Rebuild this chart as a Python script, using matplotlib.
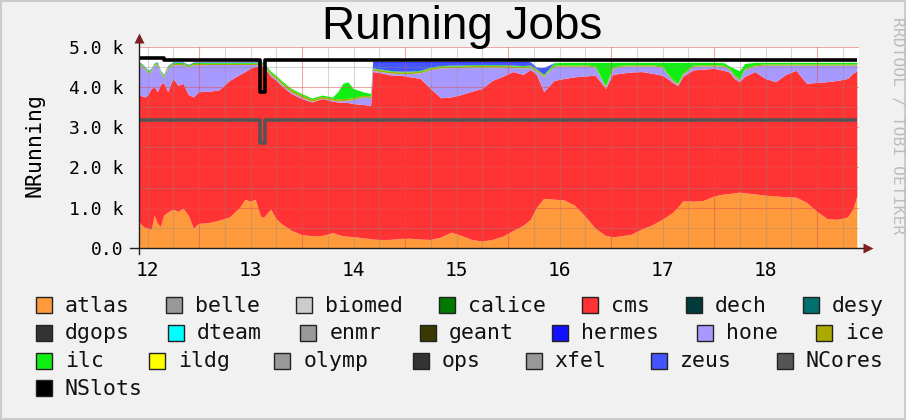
import numpy as np
import matplotlib
matplotlib.use('Agg')
import matplotlib.pyplot as plt
from matplotlib.patches import Rectangle

#-------------------------------------------------------------------------------
#values (x = day of month, y = running jobs)
#-------------------------------------------------------------------------------

t = [11.92, 11.95, 11.98, 12.01, 12.04, 12.07, 12.10, 12.13, 12.16, 12.20,
     12.25, 12.30, 12.35, 12.40, 12.45, 12.50, 12.60, 12.70, 12.80, 12.90,
     12.95, 13.00, 13.05, 13.10, 13.13, 13.20, 13.25, 13.30, 13.40, 13.50,
     13.60, 13.70, 13.80, 13.85, 13.90, 13.95, 14.00, 14.10, 14.17, 14.19,
     14.25, 14.35, 14.45, 14.55, 14.65, 14.75, 14.85, 14.95, 15.05, 15.15,
     15.25, 15.35, 15.45, 15.55, 15.65, 15.72, 15.78, 15.85, 15.95, 16.05,
     16.15, 16.25, 16.35, 16.45, 16.52, 16.60, 16.70, 16.80, 16.90, 17.00,
     17.05, 17.10, 17.15, 17.20, 17.30, 17.40, 17.50, 17.60, 17.65, 17.70,
     17.75, 17.80, 17.90, 18.00, 18.10, 18.20, 18.30, 18.40, 18.50, 18.60,
     18.70, 18.80, 18.85, 18.89]

atlas = [650, 550, 500, 480, 450, 800, 600, 520, 800, 880,
         950, 900, 975, 800, 480, 600, 620, 680, 760, 1000,
         1200, 1150, 1200, 780, 750, 950, 720, 600, 430, 320,
         290, 300, 370, 330, 290, 280, 270, 240, 220, 210,
         200, 200, 225, 230, 210, 200, 260, 380, 300, 200,
         160, 200, 280, 420, 550, 700, 1000, 1220, 1200, 1180,
         1050, 780, 480, 300, 265, 290, 330, 460, 560, 700,
         780, 870, 1000, 1160, 1150, 1170, 1280, 1330, 1340, 1360,
         1375, 1360, 1330, 1300, 1280, 1260, 1250, 1125, 900, 720,
         700, 760, 950, 1280]

#top edge of the red cms band (atlas + cms)
cms_top = [3820, 3760, 3740, 3800, 3950, 3990, 3870, 4050, 4100, 3870,
           4200, 4030, 4075, 3800, 3740, 3870, 3880, 3920, 4150, 4300,
           4370, 4450, 4500, 4530, 4500, 4250, 4160, 4030, 3825, 3700,
           3615, 3700, 3635, 3615, 3610, 3600, 3575, 3550, 3535, 4370,
           4350, 4290, 4280, 4240, 4200, 3950, 3720, 3740, 3800, 3880,
           3950, 4150, 4250, 4370, 4300, 4420, 4300, 3870, 4150, 4200,
           4240, 4260, 4280, 3950, 4300, 4330, 4360, 4370, 4330, 4280,
           4200, 4100, 4020, 4250, 4410, 4430, 4450, 4400, 4360, 4200,
           4120, 4250, 4370, 4200, 4120, 4300, 4400, 4080, 4100, 4120,
           4150, 4200, 4330, 4380]

#top edge of the lavender hone band
hone_top = [4540, 4500, 4420, 4330, 4380, 4520, 4540, 4330, 4230, 4450,
            4540, 4540, 4540, 4480, 4540, 4540, 4545, 4545, 4545, 4545,
            4545, 4545, 4545, 4545, 4530, 4290, 4200, 4070, 3860, 3735,
            3630, 3710, 3660, 3640, 3650, 3660, 3680, 3740, 3720, 4400,
            4380, 4340, 4320, 4320, 4340, 4420, 4460, 4470, 4470, 4480,
            4480, 4480, 4480, 4470, 4460, 4470, 4380, 4250, 4500, 4510,
            4500, 4510, 4480, 3980, 4450, 4500, 4510, 4510, 4510, 4480,
            4300, 4150, 4050, 4300, 4500, 4510, 4510, 4500, 4420, 4260,
            4160, 4420, 4510, 4530, 4530, 4530, 4530, 4530, 4530, 4530,
            4530, 4530, 4530, 4530]

ice = [30] * 25 + [50, 50, 55, 55, 55, 55, 45, 50, 50, 50, 45, 40, 40, 40] \
      + [40] * 18 + [30] + [30] * 36

ilc = [25] * 25 + [40, 30, 35, 35, 35, 30, 30, 30, 175, 375, 410, 230, 85, 65] \
      + [20] * 19 \
      + [60, 60, 70, 60, 90, 590, 120, 70, 60, 60, 60, 90, 270, 420, 520, 270,
         70, 60, 60, 60, 60, 160, 200, 120, 60, 40] + [40] * 10

zeus = [15] * 25 + [0] * 14 \
       + [140, 160, 200, 220, 220, 200, 120, 80, 70, 70, 60, 60, 60, 60, 70,
          80, 60, 30, 150] + [0] * 36

hermes = [0] * 39 + [20] * 17 + [10, 20] + [0] * 36

#the two line series
nslots_t = [11.92, 12.16, 13.09, 13.14, 18.89]
nslots_v = [4720, 4670, 3870, 4660, 4660]
ncores_t = [11.92, 13.09, 13.14, 18.89]
ncores_v = [3180, 2620, 3180, 3180]

legend_names = ['atlas', 'belle', 'biomed', 'calice', 'cms', 'dech', 'desy',
                'dgops', 'dteam', 'enmr', 'geant', 'hermes', 'hone', 'ice',
                'ilc', 'ildg', 'olymp', 'ops', 'xfel', 'zeus', 'NCores',
                'NSlots']
legend_colors = ['#FF9A3C', '#999999', '#CCCCCC', '#007A00', '#FF3333',
                 '#003A3A', '#007070', '#333333', '#00FFFF', '#999999',
                 '#3A3A00', '#1111FF', '#A899FF', '#AAAA00', '#11EE11',
                 '#FFFF00', '#999999', '#333333', '#999999', '#4455FF',
                 '#555555', '#000000']
col = dict(zip(legend_names, legend_colors))

y_ticks = [0, 1000, 2000, 3000, 4000, 5000]
y_labels = ['0.0', '1.0 k', '2.0 k', '3.0 k', '4.0 k', '5.0 k']
x_ticks = [12, 13, 14, 15, 16, 17, 18]

#-------------------------------------------------------------------------------
#build the stacked layers
#-------------------------------------------------------------------------------
atlas = np.array(atlas, float)
cms = np.array(cms_top, float) - atlas
hone = np.array(hone_top, float) - np.array(cms_top, float)

mono = 'DejaVu Sans Mono'
fig = plt.figure(figsize=(9.06, 4.20), dpi=100, facecolor='#F1F1F1')
ax = fig.add_axes([139 / 906, 1 - 248 / 420, 719.5 / 906, 201.3 / 420])
ax.set_facecolor('white')
for s in ax.spines.values():
    s.set_visible(False)

ax.stackplot(t, atlas, cms, hone, ice, ilc, zeus, hermes,
             colors=[col['atlas'], col['cms'], col['hone'], col['ice'],
                     col['ilc'], col['zeus'], col['hermes']],
             linewidth=0, zorder=2)

#grid like rrdtool: grey minor, red major
for v in np.arange(500, 5000, 1000):
    ax.axhline(v, color='#8c8c8c', alpha=0.35, lw=0.8, zorder=3)
for v in np.arange(1000, 5001, 1000):
    ax.axhline(v, color='#de5050', alpha=0.5, lw=0.8, zorder=3)
for v in np.arange(12.0, 18.9, 0.25):
    if abs((v % 1) - 0.5) < 1e-6:
        ax.axvline(v, color='#de5050', alpha=0.5, lw=0.8, zorder=3)
    else:
        ax.axvline(v, color='#8c8c8c', alpha=0.35, lw=0.8, zorder=3)

ax.plot(ncores_t, ncores_v, drawstyle='steps-post', color=col['NCores'],
        lw=2.6, zorder=4, solid_capstyle='butt')
ax.plot(nslots_t, nslots_v, drawstyle='steps-post', color=col['NSlots'],
        lw=2.6, zorder=4, solid_capstyle='butt')

ax.set_xlim(11.917, 18.901)
ax.set_ylim(0, 5000)

#axes with arrows
ax.plot([11.83, 18.99], [0, 0], color='#202020', lw=1, clip_on=False, zorder=6)
ax.plot([11.917, 11.917], [-150, 5220], color='#202020', lw=1, clip_on=False,
        zorder=6)
ax.plot([18.998], [0], marker='>', ms=7, color='#7f1f1f', clip_on=False,
        zorder=7, mec='none')
ax.plot([11.917], [5225], marker='^', ms=7, color='#7f1f1f', clip_on=False,
        zorder=7, mec='none')

ax.set_yticks(y_ticks)
ax.set_yticklabels(y_labels, family=mono, fontsize=13)
ax.set_xticks(x_ticks)
ax.set_xticklabels([str(x) for x in x_ticks], family=mono, fontsize=14)
ax.tick_params(axis='y', length=0, pad=11.5)
ax.tick_params(axis='x', length=0, pad=9.5)

#-------------------------------------------------------------------------------
#overlay in pixel coords: title, labels, legend, frame
#-------------------------------------------------------------------------------
lay = fig.add_axes([0, 0, 1, 1], zorder=10)
lay.set_xlim(0, 906)
lay.set_ylim(420, 0)
lay.axis('off')

lay.text(462, 27, 'Running Jobs', ha='center', va='center', fontsize=33,
         family='Liberation Sans', color='black')
lay.text(34, 145, 'NRunning', rotation=90, ha='center', va='center',
         fontsize=15.5, family=mono)
lay.text(897, 126, 'RRDTOOL / TOBI OETIKER', rotation=-90, ha='center',
         va='center', fontsize=11.8, family=mono, color='#bdbdbd')
lay.add_patch(Rectangle((1, 1), 904, 418, fill=False, edgecolor='#cccccc',
                        lw=1.5))

#justified legend rows, rrdtool style
adv = 13.0
left, width = 36, 848
rows, row = [], []
for name in legend_names:
    trial = row + [name]
    w = sum(29 + adv * len(n) for n in trial) + 26 * (len(trial) - 1)
    if row and w > width:
        rows.append(row)
        row = [name]
    else:
        row = trial
rows.append(row)

for r, names in enumerate(rows):
    widths = [29 + adv * len(n) for n in names]
    if r < len(rows) - 1 and len(names) > 1:
        gap = (width - sum(widths)) / (len(names) - 1)
    else:
        gap = 26
    top = 297.3 + 27.6 * r
    x = left
    for n, w in zip(names, widths):
        lay.add_patch(Rectangle((x, top), 16, 16, facecolor=col[n],
                                edgecolor='#222222', lw=1))
        lay.text(x + 29, top + 14.5, n, ha='left', va='baseline',
                 fontsize=15.5, family=mono, color='#111111')
        x += w + gap

fig.savefig('out.png', dpi=100, facecolor=fig.get_facecolor())
